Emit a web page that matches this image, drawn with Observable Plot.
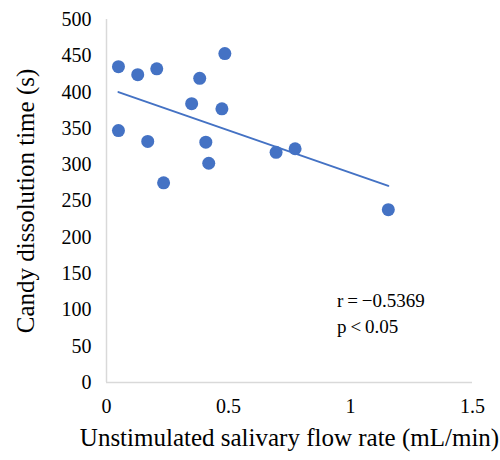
<!DOCTYPE html>
<html>
<head>
<meta charset="utf-8">
<script src="https://cdn.jsdelivr.net/npm/d3@7"></script>
<script src="https://cdn.jsdelivr.net/npm/@observablehq/plot@0.6"></script>
<style>
  html, body { margin: 0; padding: 0; background: #fff; }
  #chart { width: 500px; height: 460px; }
</style>
</head>
<body>
<div id="chart"></div>
<script>
// Unstimulated salivary flow rate (mL/min)
const flowRate = [0.049, 0.128, 0.206, 0.382, 0.485, 0.349, 0.473, 0.049, 0.169, 0.407, 0.419, 0.234, 0.695, 0.773, 1.155];
// Candy dissolution time (s)
const dissolutionTime = [435, 424, 432, 419, 453, 384, 377, 347, 332, 331, 302, 275, 317, 322, 238];
const xTicks = [0, 0.5, 1, 1.5];
const yTicks = [0, 50, 100, 150, 200, 250, 300, 350, 400, 450, 500];
const annotationLines = ["r\u2009=\u2009\u22120.5369", "p\u2009<\u20090.05"];
const annotationX = [0.945, 0.945];
const annotationY = [113, 76];

const data = flowRate.map((x, i) => ({x, y: dissolutionTime[i]}));
const notes = annotationLines.map((t, i) => ({t, x: annotationX[i], y: annotationY[i]}));

const blue = "#4472C4";
const chart = Plot.plot({
  width: 500,
  height: 460,
  marginLeft: 106,
  marginRight: 28,
  marginTop: 19,
  marginBottom: 78,
  style: {fontFamily: "'Liberation Serif', 'Times New Roman', serif", fontSize: "20px", color: "#000", background: "#fff"},
  x: {domain: [0, 1.5]},
  y: {domain: [0, 500]},
  marks: [
    Plot.ruleX([0], {stroke: "#d9d9d9", strokeWidth: 1.5}),
    Plot.ruleY([0], {stroke: "#d9d9d9", strokeWidth: 1.5}),
    Plot.axisX({ticks: xTicks, tickSize: 0, tickPadding: 16, tickFormat: d => String(d), label: null, fontSize: 20}),
    Plot.axisX({ticks: [], label: "Unstimulated salivary flow rate (mL/min)", labelAnchor: "center", labelArrow: "none", labelOffset: 63, fontSize: 25}),
    Plot.axisY({ticks: yTicks, tickSize: 0, tickPadding: 15, tickFormat: d => String(d), label: null, fontSize: 20}),
    Plot.axisY({ticks: [], label: "Candy dissolution time (s)", labelAnchor: "center", labelArrow: "none", labelOffset: 90, fontSize: 25}),
    Plot.linearRegressionY(data, {x: "x", y: "y", stroke: blue, strokeWidth: 2, ci: 0}),
    Plot.dot(data, {x: "x", y: "y", r: 6.5, fill: blue, stroke: "none"}),
    Plot.text(notes, {x: "x", y: "y", text: "t", textAnchor: "start", fontSize: 19, fill: "#000"})
  ]
});
document.getElementById("chart").appendChild(chart);
</script>
</body>
</html>
